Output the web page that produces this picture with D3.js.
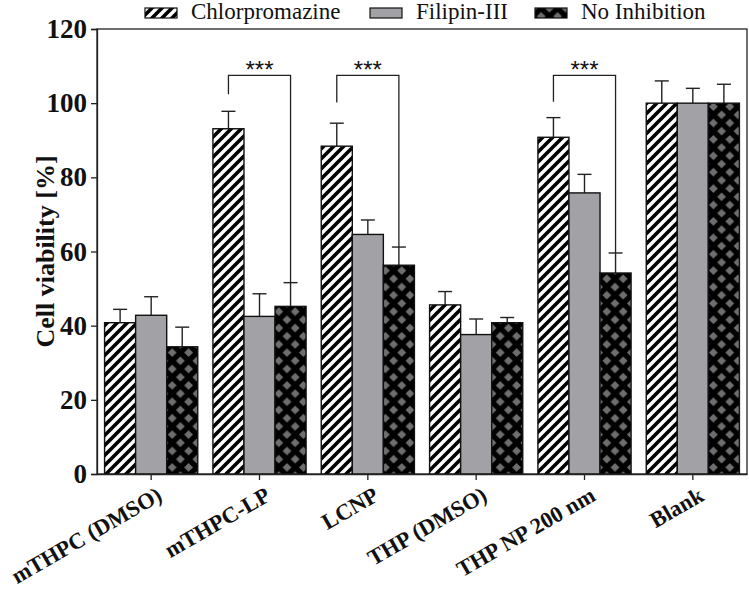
<!DOCTYPE html>
<html><head><meta charset="utf-8">
<script src="https://cdn.jsdelivr.net/npm/d3@7"></script>
<style>
body{margin:0;background:#fff}
.serif{font-family:'Liberation Serif','Times New Roman','DejaVu Serif',serif;}
.sans{font-family:'Liberation Sans',Arial,sans-serif;}
</style>
</head><body>
<svg id="chart" width="749" height="589"></svg>
<script>
const categories = ["mTHPC (DMSO)", "mTHPC-LP", "LCNP", "THP (DMSO)", "THP NP 200 nm", "Blank"];
const seriesNames = ["Chlorpromazine", "Filipin-III", "No Inhibition"];
const chlorpromazine = [40.8, 93.1, 88.4, 45.6, 90.8, 100.0];
const chlorpromazineErr = [3.6, 4.7, 6.2, 3.6, 5.3, 6.0];
const filipin = [42.8, 42.5, 64.6, 37.6, 75.8, 100.0];
const filipinErr = [5.0, 6.1, 3.9, 4.2, 5.0, 4.0];
const noInhibition = [34.3, 45.2, 56.3, 40.8, 54.2, 100.0];
const noInhibitionErr = [5.3, 6.4, 4.9, 1.4, 5.4, 5.1];
const yTicks = [0, 20, 40, 60, 80, 100, 120];
// significance brackets
const brackets = [
  {cat: "mTHPC-LP", leftEnd: 102.4, top: 107.5, label: "***"},
  {cat: "LCNP", leftEnd: 100.2, top: 107.5, label: "***"},
  {cat: "THP NP 200 nm", leftEnd: 100.4, top: 107.5, label: "***"}
];

const values = [chlorpromazine, filipin, noInhibition];
const errs = [chlorpromazineErr, filipinErr, noInhibitionErr];

const svg = d3.select("#chart");
const W = 749, H = 589;
const m = {left: 97, right: 2, top: 29, bottom: 115};
const x0 = d3.scaleBand().domain(categories).range([m.left, W - m.right]).paddingInner(0.14).paddingOuter(0.07);
const x1 = d3.scaleBand().domain(seriesNames).range([0, x0.bandwidth()]).padding(0);
const y = d3.scaleLinear().domain([0, 120]).range([H - m.bottom, m.top]);

const defs = svg.append("defs");
const hatch = defs.append("pattern").attr("id", "hatch").attr("patternUnits", "userSpaceOnUse")
  .attr("width", 10).attr("height", 10);
hatch.append("rect").attr("width", 10).attr("height", 10).attr("fill", "#fff");
hatch.append("path").attr("d", "M-1,11 L11,-1 M-6,6 L6,-6 M4,16 L16,4")
  .attr("stroke", "#000").attr("stroke-width", 3.6);
const P = 16.4;
const cross = defs.append("pattern").attr("id", "cross").attr("patternUnits", "userSpaceOnUse")
  .attr("width", P).attr("height", P);
cross.append("rect").attr("width", P).attr("height", P).attr("fill", "#000");
const dd = 4.4;
[[0,0],[P,0],[0,P],[P,P],[P/2,P/2]].forEach(([cx,cy]) => {
  cross.append("path").attr("d", `M${cx},${cy-dd} L${cx+dd},${cy} L${cx},${cy+dd} L${cx-dd},${cy} Z`).attr("fill", "#6e6e6e");
});
const fills = ["url(#hatch)", "#a2a2a6", "url(#cross)"];

// frame
svg.append("rect").attr("x", m.left).attr("y", m.top).attr("width", W - m.right - m.left).attr("height", H - m.bottom - m.top)
  .attr("fill", "none").attr("stroke", "#222").attr("stroke-width", 1.3);

// bars
const g = svg.append("g");
categories.forEach((c, i) => {
  seriesNames.forEach((s, j) => {
    const v = values[j][i], e = errs[j][i];
    const bx = x0(c) + x1(s), bw = x1.bandwidth();
    const cx = bx + bw / 2;
    g.append("line").attr("x1", cx).attr("x2", cx).attr("y1", y(v)).attr("y2", y(v + e)).attr("stroke", "#222").attr("stroke-width", 1.4);
    g.append("line").attr("x1", cx - 7).attr("x2", cx + 7).attr("y1", y(v + e)).attr("y2", y(v + e)).attr("stroke", "#222").attr("stroke-width", 1.4);
    g.append("rect").attr("x", bx).attr("y", y(v)).attr("width", bw).attr("height", y(0) - y(v))
      .attr("fill", fills[j]).attr("stroke", "#111").attr("stroke-width", 1.4);
  });
});

// brackets
brackets.forEach(b => {
  const i = categories.indexOf(b.cat);
  const lx = x0(b.cat) + x1(seriesNames[0]) + x1.bandwidth() / 2;
  const rx = x0(b.cat) + x1(seriesNames[2]) + x1.bandwidth() / 2;
  const rEnd = noInhibition[i] + noInhibitionErr[i];
  svg.append("path").attr("d", `M${lx},${y(b.leftEnd)} L${lx},${y(b.top)} L${rx},${y(b.top)} L${rx},${y(rEnd)}`)
    .attr("fill", "none").attr("stroke", "#222").attr("stroke-width", 1.3);
  svg.append("text").attr("class", "sans").attr("x", (lx + rx) / 2).attr("y", y(b.top) + 3).attr("text-anchor", "middle")
    .attr("font-size", 24).attr("fill", "#111").text(b.label);
});

// axes
const yAxis = svg.append("g").attr("transform", `translate(${m.left},0)`)
  .call(d3.axisLeft(y).tickValues(yTicks).tickSize(6).tickPadding(4));
yAxis.attr("font-family", null);
yAxis.select(".domain").attr("stroke", "#222").attr("stroke-width", 1.3);
yAxis.selectAll(".tick line").attr("stroke", "#222").attr("stroke-width", 1.3);
yAxis.selectAll("text").attr("class", "serif").attr("font-weight", "bold")
  .attr("font-size", 27).attr("fill", "#111");

const xAxis = svg.append("g").attr("transform", `translate(0,${y(0)})`)
  .call(d3.axisBottom(x0).tickSize(6).tickSizeOuter(0));
xAxis.attr("font-family", null);
xAxis.select(".domain").attr("stroke", "#222").attr("stroke-width", 1.3);
xAxis.selectAll(".tick line").attr("stroke", "#222").attr("stroke-width", 1.3);
xAxis.selectAll("text").attr("class", "serif").attr("font-weight", "bold")
  .attr("font-size", 22.5).attr("fill", "#111")
  .attr("text-anchor", "end").attr("x", 0).attr("y", 0).attr("dy", "0.75em")
  .attr("transform", "translate(4,11) rotate(-30)");

// y label
svg.append("text").attr("class", "serif").attr("transform", `translate(54,${(y(0) + y(120)) / 2}) rotate(-90)`)
  .attr("text-anchor", "middle")
  .attr("font-weight", "bold").attr("font-size", 26).attr("fill", "#111").text("Cell viability [%]");

// legend
const legendX = [145, 370, 535];
const lg = svg.append("g");
seriesNames.forEach((s, j) => {
  lg.append("rect").attr("x", legendX[j]).attr("y", 8).attr("width", 32).attr("height", 10)
    .attr("fill", fills[j]).attr("stroke", "#111").attr("stroke-width", 1.2);
  lg.append("text").attr("class", "serif").attr("x", legendX[j] + 46).attr("y", 19)
    .attr("font-size", 23).attr("fill", "#111").text(s);
});
</script>
</body></html>
